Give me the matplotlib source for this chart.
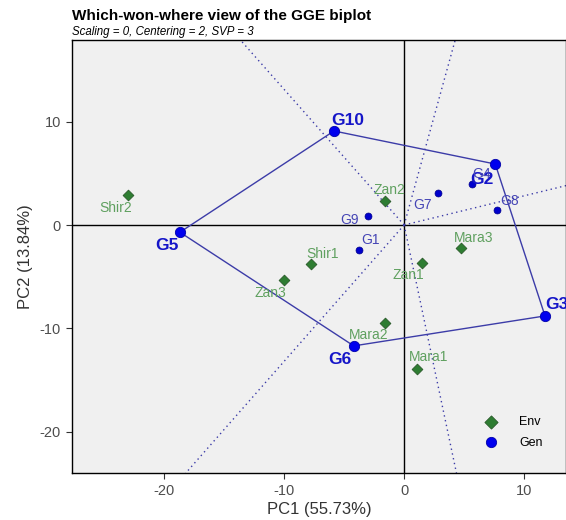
import numpy as np
import matplotlib.pyplot as plt

plt.rcParams['font.family'] = ['Liberation Sans', 'DejaVu Sans']
plt.rcParams['axes.unicode_minus'] = False

# genotype scores (PC1, PC2)
gen_names = ['G1', 'G2', 'G3', 'G4', 'G5', 'G6', 'G7', 'G8', 'G9', 'G10']
gen_pc1 = [-3.8, 7.6, 11.75, 5.65, -18.7, -4.2, 2.8, 7.75, -3.05, -5.85]
gen_pc2 = [-2.4, 5.9, -8.8, 3.95, -0.7, -11.7, 3.1, 1.45, 0.85, 9.1]

# environment scores
env_names = ['Shir2', 'Zan2', 'Shir1', 'Zan3', 'Mara3', 'Zan1', 'Mara2', 'Mara1']
env_pc1 = [-23.0, -1.6, -7.8, -10.0, 4.75, 1.5, -1.6, 1.05]
env_pc2 = [2.95, 2.35, -3.75, -5.35, -2.2, -3.7, -9.5, -13.9]

# polygon vertices (in drawing order)
hull = ['G5', 'G10', 'G2', 'G3', 'G6']

# label offsets in pixels
gen_off = {'G1': (12, 10), 'G2': (-13, -15), 'G3': (12, 11), 'G4': (10, 10),
           'G5': (-13, -13), 'G6': (-14, -14), 'G7': (-15, -12), 'G8': (13, 9),
           'G9': (-18, -4), 'G10': (14, 10)}
env_off = {'Shir2': (-13, -13), 'Zan2': (4, 11), 'Shir1': (12, 10), 'Zan3': (-14, -13),
           'Mara3': (13, 10), 'Zan1': (-14, -12), 'Mara2': (-16, -12), 'Mara1': (12, 12)}

fig = plt.figure(figsize=(5.66, 5.2), dpi=100)
ax = fig.add_axes([0.1272, 0.0904, 0.8728, 0.8326])
ax.set_facecolor('#F0F0F0')
xlim = (-27.7, 13.5)
ylim = (-24.0, 17.9)

gx = dict(zip(gen_names, gen_pc1))
gy = dict(zip(gen_names, gen_pc2))

ax.axhline(0, color='black', lw=1, zorder=1)
ax.axvline(0, color='black', lw=1, zorder=1)

# rays perpendicular to polygon sides
poly_col = '#3C3CA8'
for i in range(len(hull)):
    a, b = hull[i], hull[(i + 1) % len(hull)]
    p1 = np.array([gx[a], gy[a]])
    p2 = np.array([gx[b], gy[b]])
    d = p2 - p1
    t = -np.dot(p1, d) / np.dot(d, d)
    foot = p1 + t * d
    foot = foot / np.linalg.norm(foot)
    ax.plot([0, foot[0] * 100], [0, foot[1] * 100], ls=(0, (1, 2.5)),
            color=poly_col, lw=1, zorder=2)

# polygon
hx = [gx[g] for g in hull] + [gx[hull[0]]]
hy = [gy[g] for g in hull] + [gy[hull[0]]]
ax.plot(hx, hy, color=poly_col, lw=1, zorder=3)

# environments
ax.scatter(env_pc1, env_pc2, marker='D', s=30, color='#2E7D32',
           edgecolor='#2A5A2A', lw=0.6, zorder=4)
for n, x, y in zip(env_names, env_pc1, env_pc2):
    ax.annotate(n, (x, y), xytext=env_off[n], textcoords='offset pixels',
                ha='center', va='center', fontsize=10, color='#5FA05F', zorder=6)

# genotypes
for n, x, y in zip(gen_names, gen_pc1, gen_pc2):
    if n in hull:
        ax.scatter(x, y, s=55, color='#0000EE', edgecolor='#0000AA', lw=0.6, zorder=5)
        ax.annotate(n, (x, y), xytext=gen_off[n], textcoords='offset pixels',
                    ha='center', va='center', fontsize=12.5, fontweight='bold',
                    color='#1515C8', zorder=6, annotation_clip=False)
    else:
        ax.scatter(x, y, s=25, color='#0000CC', edgecolor='#00008B', lw=0.5, zorder=5)
        ax.annotate(n, (x, y), xytext=gen_off[n], textcoords='offset pixels',
                    ha='center', va='center', fontsize=10, color='#4545B5', zorder=6)

ax.set_xlim(xlim)
ax.set_ylim(ylim)
ax.set_xticks([-20, -10, 0, 10])
ax.set_yticks([-20, -10, 0, 10])
ax.tick_params(labelsize=10.5, labelcolor='#4D4D4D', color='#333333', length=4, pad=4)
for s in ax.spines.values():
    s.set_color('black')
    s.set_linewidth(1)

ax.set_xlabel('PC1 (55.73%)', fontsize=12, color='#333333', labelpad=3)
ax.set_ylabel('PC2 (13.84%)', fontsize=12, color='#333333', labelpad=5)

fig.text(0.1272, 0.969, 'Which-won-where view of the GGE biplot',
         fontsize=11, fontweight='bold', va='center')
fig.text(0.1272, 0.938, 'Scaling = 0, Centering = 2, SVP = 3',
         fontsize=8.3, style='italic', va='center')

# legend
h1 = ax.scatter([], [], marker='D', s=45, color='#2E7D32', edgecolor='#2A5A2A', lw=0.6)
h2 = ax.scatter([], [], s=55, color='#0000EE', edgecolor='#0000AA', lw=0.6)
ax.legend([h1, h2], ['Env', 'Gen'], loc='lower right', bbox_to_anchor=(0.975, 0.03),
          frameon=False, fontsize=9, handletextpad=1.2, labelspacing=0.7)

fig.savefig('out.png', dpi=100)
